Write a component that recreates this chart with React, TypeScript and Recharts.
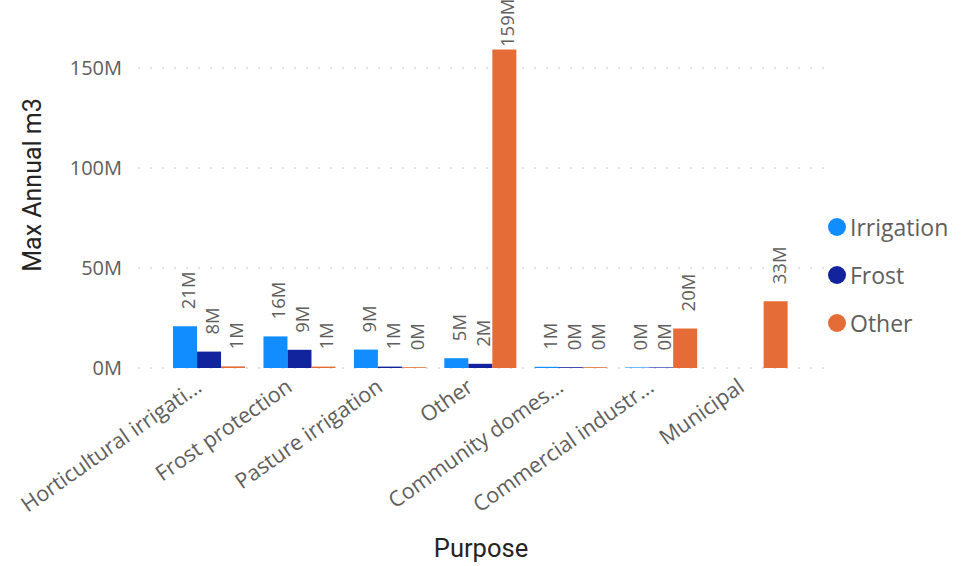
import { BarChart, Bar, XAxis, YAxis, CartesianGrid, Legend, LabelList, Label } from "recharts";

// values in millions of m3
const purposes = [
  "Horticultural irrigati...",
  "Frost protection",
  "Pasture irrigation",
  "Other",
  "Community domes...",
  "Commercial industr...",
  "Municipal",
];
const irrigation = [20.9, 15.8, 9.2, 4.9, 0.6, 0.3, null];
const frost = [8.2, 9.1, 0.7, 2.1, 0.4, 0.3, null];
const other = [0.8, 0.7, 0.4, 159.3, 0.4, 19.8, 33.4];
const yTicks = [0, 50, 100, 150];
const seriesNames = ["Irrigation", "Frost", "Other"];
const seriesColors = ["#118DFF", "#12239E", "#E66C37"];

const data = purposes.map((purpose, i) => ({
  purpose,
  Irrigation: irrigation[i],
  Frost: frost[i],
  Other: other[i],
}));

const baseFont = "'Segoe UI', 'Open Sans', sans-serif";
const titleFont = "'DIN', Roboto, sans-serif";

function PurposeTick({ x, y, payload }: any) {
  const ax = Number(x) - 6;
  const ay = Number(y) + 22;
  return (
    <text
      x={ax}
      y={ay}
      textAnchor="end"
      transform={`rotate(-35, ${ax}, ${ay})`}
      fill="#605E5C"
      fontSize={21.5}
      fontFamily={baseFont}
    >
      {payload.value}
    </text>
  );
}

function BarValueLabel({ x, y, width, value }: any) {
  if (value === null || value === undefined) return null;
  const lx = Number(x) + Number(width) / 2 + 10;
  const ly = Math.max(Number(y) - 17, 47);
  return (
    <text
      x={lx}
      y={ly}
      transform={`rotate(-90, ${lx}, ${ly})`}
      textAnchor="start"
      fill="#605E5C"
      fontSize={18.5}
      fontFamily={baseFont}
    >
      {`${Math.round(value)}M`}
    </text>
  );
}

function YTitle({ viewBox }: any) {
  const cx = viewBox.x + 32;
  const cy = viewBox.y + viewBox.height / 2 - 23;
  return (
    <text
      x={cx}
      y={cy}
      textAnchor="middle"
      dominantBaseline="central"
      transform={`rotate(-90, ${cx}, ${cy})`}
      fill="#252423"
      fontSize={25}
      fontFamily={titleFont}
    >
      Max Annual m3
    </text>
  );
}

function XTitle({ viewBox }: any) {
  return (
    <text
      x={viewBox.x + viewBox.width / 2}
      y={557}
      textAnchor="middle"
      fill="#252423"
      fontSize={25.5}
      fontFamily={titleFont}
    >
      Purpose
    </text>
  );
}

function LegendList() {
  return (
    <div style={{ display: "flex", flexDirection: "column", fontFamily: baseFont }}>
      {seriesNames.map((name, i) => (
        <div key={name} style={{ display: "flex", alignItems: "center", height: 48 }}>
          <span
            style={{
              width: 18,
              height: 18,
              borderRadius: 9,
              background: seriesColors[i],
              display: "inline-block",
              marginRight: 4,
            }}
          />
          <span style={{ fontSize: 23, color: "#605E5C" }}>{name}</span>
        </div>
      ))}
    </div>
  );
}

export default function App() {
  return (
    <div style={{ position: "fixed", left: 0, top: 0, width: 970, height: 566, background: "#fff" }}>
      <BarChart
        width={970}
        height={566}
        data={data}
        margin={{ top: 48, right: 6, bottom: 48, left: 0 }}
        barCategoryGap="10%"
        barGap={0}
      >
        <CartesianGrid
          vertical={false}
          horizontalValues={yTicks}
          stroke="#C8C6C4"
          strokeDasharray="2 10"
        />
        <XAxis
          dataKey="purpose"
          interval={0}
          axisLine={false}
          tickLine={false}
          tickSize={0}
          tickMargin={0}
          height={150}
          padding={{ left: 26, right: 27 }}
          tick={<PurposeTick />}
        >
          <Label content={<XTitle />} />
        </XAxis>
        <YAxis
          width={138}
          domain={[0, 160]}
          ticks={yTicks}
          interval={0}
          axisLine={false}
          tickLine={false}
          tickSize={0}
          tickMargin={16}
          tickFormatter={(v: number) => `${v}M`}
          tick={{ fill: "#605E5C", fontSize: 20, fontFamily: baseFont }}
        >
          <Label content={<YTitle />} />
        </YAxis>
        <Legend
          layout="vertical"
          align="right"
          verticalAlign="middle"
          content={<LegendList />}
          wrapperStyle={{ top: 203, right: 2, width: 140 }}
        />
        {seriesNames.map((name, i) => (
          <Bar key={name} dataKey={name} fill={seriesColors[i]} isAnimationActive={false}>
            <LabelList dataKey={name} content={<BarValueLabel />} />
          </Bar>
        ))}
      </BarChart>
    </div>
  );
}
